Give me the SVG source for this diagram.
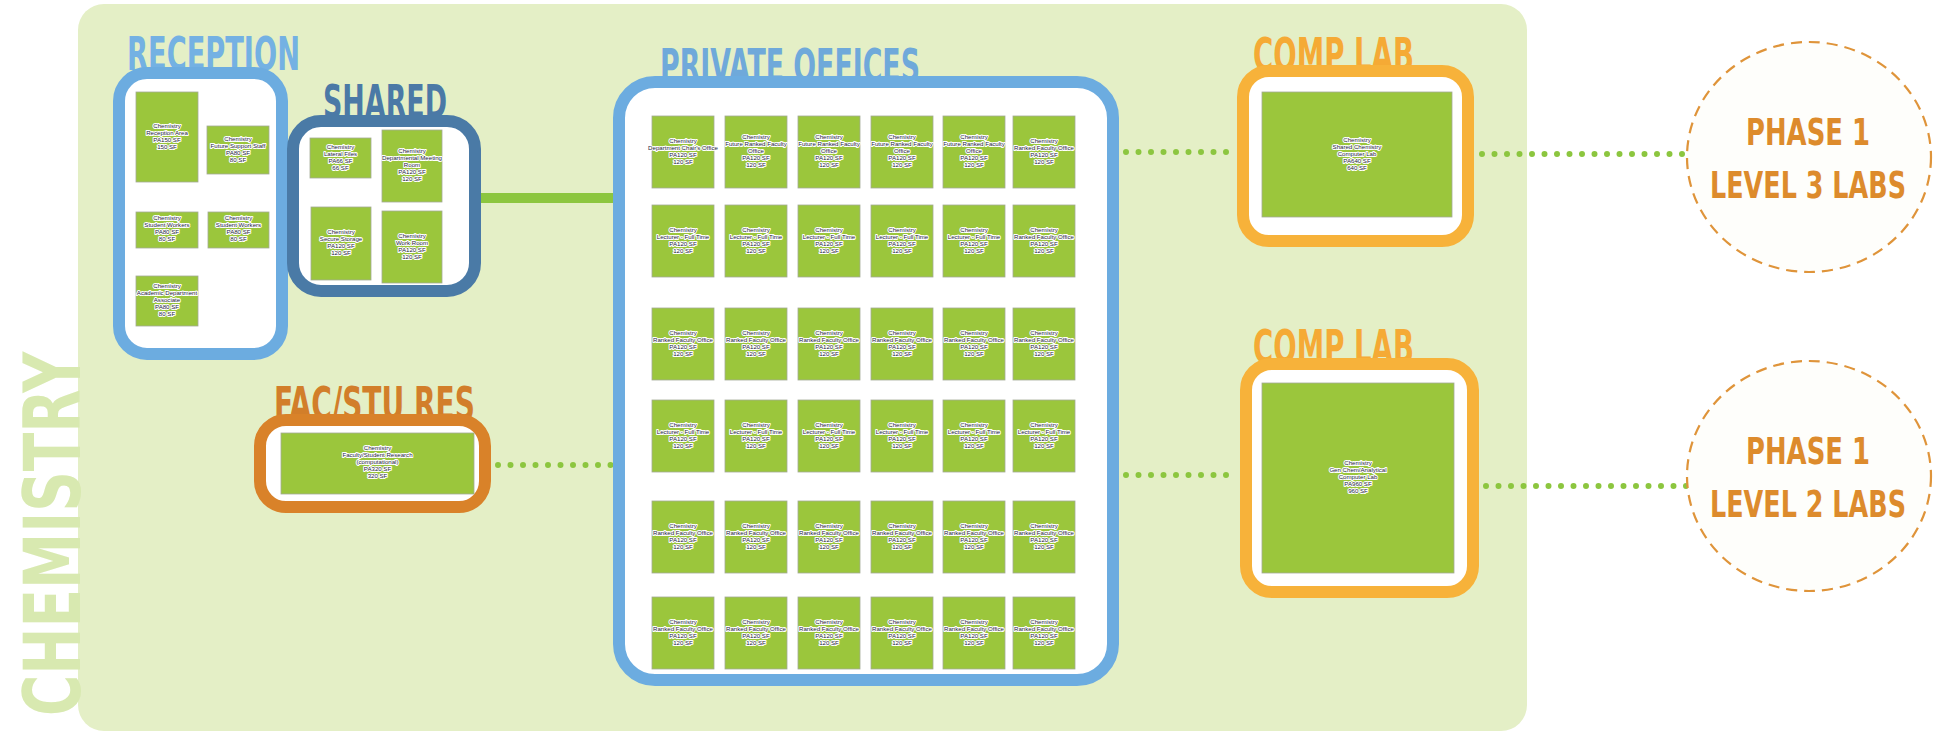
<svg xmlns="http://www.w3.org/2000/svg" width="1936" height="735" viewBox="0 0 1936 735">
<style>
.title{font-family:"DejaVu Sans Condensed","DejaVu Sans",sans-serif;font-weight:bold;font-size:47px;}
.room{fill:#9bc63c;stroke:#a3aa96;stroke-width:0.8;}
.t{font-family:"Liberation Sans",Arial,sans-serif;font-size:6.1px;fill:#1c1c3c;text-anchor:middle;paint-order:stroke;stroke:#ffffff;stroke-width:2px;stroke-linejoin:round;}
.box{fill:#ffffff;stroke-width:12;}
.blue{stroke:#6cace0;}
.steel{stroke:#4a7aa6;}
.orange{stroke:#d98229;}
.gold{stroke:#f7b23a;}
.dots{fill:none;stroke:#8cc63f;stroke-width:6;stroke-linecap:round;stroke-dasharray:0 12.5;}
.solid{fill:none;stroke:#8cc63f;stroke-width:10;}
.phase{fill:#fefefb;stroke:#df943a;stroke-width:2.2;stroke-dasharray:11 7;}
.ptxt{font-family:"DejaVu Sans Condensed","DejaVu Sans",sans-serif;font-weight:bold;font-size:38px;fill:#dd8b2c;}
</style>
<rect id="background" x="78" y="4" width="1449" height="727" rx="26" fill="#e4efc6"/>
<text id="chemistry-label" transform="translate(80,716) rotate(-90)" class="title" style="font-size:79px;fill:#d8e9b0" textLength="364" lengthAdjust="spacingAndGlyphs">CHEMISTRY</text>

<g id="connectors">
<line class="solid" x1="478" y1="198" x2="616" y2="198"/>
<line class="dots" x1="498" y1="465" x2="611" y2="465"/>
<line class="dots" x1="1126" y1="152" x2="1233" y2="152"/>
<line class="dots" x1="1126" y1="475" x2="1236" y2="475"/>
<line class="dots" x1="1482" y1="154" x2="1687" y2="154"/>
<line class="dots" x1="1486" y1="486" x2="1687" y2="486"/>
</g>

<g id="reception">
<text class="title" x="127" y="70" fill="#74b1e3" textLength="173" lengthAdjust="spacingAndGlyphs">RECEPTION</text>
<rect class="box blue" x="119" y="73" width="163" height="281" rx="28"/>
<g id="reception-area"><rect class="room" x="136" y="92" width="62" height="90"/><text class="t" y="127.5"><tspan x="167">Chemistry</tspan><tspan x="167" dy="7">Reception Area</tspan><tspan x="167" dy="7">PA150 SF</tspan><tspan x="167" dy="7">150 SF</tspan></text></g>
<g id="future-support-staff"><rect class="room" x="207" y="126" width="62" height="48"/><text class="t" y="140.5"><tspan x="238">Chemistry</tspan><tspan x="238" dy="7">Future Support Staff</tspan><tspan x="238" dy="7">PA80 SF</tspan><tspan x="238" dy="7">80 SF</tspan></text></g>
<g id="student-workers-1"><rect class="room" x="136" y="212" width="62" height="36"/><text class="t" y="220"><tspan x="167">Chemistry</tspan><tspan x="167" dy="7">Student Workers</tspan><tspan x="167" dy="7">PA80 SF</tspan><tspan x="167" dy="7">80 SF</tspan></text></g>
<g id="student-workers-2"><rect class="room" x="208" y="212" width="61" height="36"/><text class="t" y="220"><tspan x="238.5">Chemistry</tspan><tspan x="238.5" dy="7">Student Workers</tspan><tspan x="238.5" dy="7">PA80 SF</tspan><tspan x="238.5" dy="7">80 SF</tspan></text></g>
<g id="academic-dept-associate"><rect class="room" x="136" y="276" width="62" height="50"/><text class="t" y="288"><tspan x="167">Chemistry</tspan><tspan x="167" dy="7">Academic Department</tspan><tspan x="167" dy="7">Associate</tspan><tspan x="167" dy="7">PA80 SF</tspan><tspan x="167" dy="7">80 SF</tspan></text></g>
</g>

<g id="shared">
<text class="title" x="323" y="118" fill="#4b79a6" textLength="124" lengthAdjust="spacingAndGlyphs">SHARED</text>
<rect class="box steel" x="293" y="121" width="182" height="170" rx="28"/>
<g id="lateral-files"><rect class="room" x="310" y="138" width="61" height="40"/><text class="t" y="148.5"><tspan x="340.5">Chemistry</tspan><tspan x="340.5" dy="7">Lateral Files</tspan><tspan x="340.5" dy="7">PA66 SF</tspan><tspan x="340.5" dy="7">66 SF</tspan></text></g>
<g id="meeting-room"><rect class="room" x="382" y="130" width="60" height="72"/><text class="t" y="153"><tspan x="412">Chemistry</tspan><tspan x="412" dy="7">Departmental Meeting</tspan><tspan x="412" dy="7">Room</tspan><tspan x="412" dy="7">PA120 SF</tspan><tspan x="412" dy="7">120 SF</tspan></text></g>
<g id="secure-storage"><rect class="room" x="311" y="207" width="60" height="73"/><text class="t" y="234"><tspan x="341">Chemistry</tspan><tspan x="341" dy="7">Secure Storage</tspan><tspan x="341" dy="7">PA120 SF</tspan><tspan x="341" dy="7">120 SF</tspan></text></g>
<g id="work-room"><rect class="room" x="382" y="211" width="60" height="72"/><text class="t" y="237.5"><tspan x="412">Chemistry</tspan><tspan x="412" dy="7">Work Room</tspan><tspan x="412" dy="7">PA120 SF</tspan><tspan x="412" dy="7">120 SF</tspan></text></g>
</g>

<g id="fac-stu-res">
<text class="title" x="274" y="420" fill="#d27e2a" textLength="201" lengthAdjust="spacingAndGlyphs">FAC/STU RES</text>
<rect class="box orange" x="260" y="420" width="225" height="87" rx="26"/>
<rect class="room" x="281" y="433" width="193" height="61"/>
<text class="t" y="450"><tspan x="377.5">Chemistry</tspan><tspan x="377.5" dy="7">Faculty/Student Research</tspan><tspan x="377.5" dy="7">(computational)</tspan><tspan x="377.5" dy="7">PA320 SF</tspan><tspan x="377.5" dy="7">320 SF</tspan></text>
</g>

<g id="private-offices">
<text class="title" x="660" y="82" fill="#6fa9da" textLength="260" lengthAdjust="spacingAndGlyphs">PRIVATE OFFICES</text>
<rect class="box blue" x="619" y="82" width="494" height="598" rx="36"/>
<!-- row 1 -->
<g id="po-r1c1"><rect class="room" x="652" y="116" width="62" height="72"/><text class="t" y="142.5"><tspan x="683">Chemistry</tspan><tspan x="683" dy="7">Department Chair's Office</tspan><tspan x="683" dy="7">PA120 SF</tspan><tspan x="683" dy="7">120 SF</tspan></text></g>
<g id="po-r1c2"><rect class="room" x="725" y="116" width="62" height="72"/><text class="t" y="139"><tspan x="756">Chemistry</tspan><tspan x="756" dy="7">Future Ranked Faculty</tspan><tspan x="756" dy="7">Office</tspan><tspan x="756" dy="7">PA120 SF</tspan><tspan x="756" dy="7">120 SF</tspan></text></g>
<g id="po-r1c3"><rect class="room" x="798" y="116" width="62" height="72"/><text class="t" y="139"><tspan x="829">Chemistry</tspan><tspan x="829" dy="7">Future Ranked Faculty</tspan><tspan x="829" dy="7">Office</tspan><tspan x="829" dy="7">PA120 SF</tspan><tspan x="829" dy="7">120 SF</tspan></text></g>
<g id="po-r1c4"><rect class="room" x="871" y="116" width="62" height="72"/><text class="t" y="139"><tspan x="902">Chemistry</tspan><tspan x="902" dy="7">Future Ranked Faculty</tspan><tspan x="902" dy="7">Office</tspan><tspan x="902" dy="7">PA120 SF</tspan><tspan x="902" dy="7">120 SF</tspan></text></g>
<g id="po-r1c5"><rect class="room" x="943" y="116" width="62" height="72"/><text class="t" y="139"><tspan x="974">Chemistry</tspan><tspan x="974" dy="7">Future Ranked Faculty</tspan><tspan x="974" dy="7">Office</tspan><tspan x="974" dy="7">PA120 SF</tspan><tspan x="974" dy="7">120 SF</tspan></text></g>
<g id="po-r1c6"><rect class="room" x="1013" y="116" width="62" height="72"/><text class="t" y="142.5"><tspan x="1044">Chemistry</tspan><tspan x="1044" dy="7">Ranked Faculty Office</tspan><tspan x="1044" dy="7">PA120 SF</tspan><tspan x="1044" dy="7">120 SF</tspan></text></g>
<!-- row 2 -->
<g id="po-r2c1"><rect class="room" x="652" y="205" width="62" height="72"/><text class="t" y="231.5"><tspan x="683">Chemistry</tspan><tspan x="683" dy="7">Lecturer - Full Time</tspan><tspan x="683" dy="7">PA120 SF</tspan><tspan x="683" dy="7">120 SF</tspan></text></g>
<g id="po-r2c2"><rect class="room" x="725" y="205" width="62" height="72"/><text class="t" y="231.5"><tspan x="756">Chemistry</tspan><tspan x="756" dy="7">Lecturer - Full Time</tspan><tspan x="756" dy="7">PA120 SF</tspan><tspan x="756" dy="7">120 SF</tspan></text></g>
<g id="po-r2c3"><rect class="room" x="798" y="205" width="62" height="72"/><text class="t" y="231.5"><tspan x="829">Chemistry</tspan><tspan x="829" dy="7">Lecturer - Full Time</tspan><tspan x="829" dy="7">PA120 SF</tspan><tspan x="829" dy="7">120 SF</tspan></text></g>
<g id="po-r2c4"><rect class="room" x="871" y="205" width="62" height="72"/><text class="t" y="231.5"><tspan x="902">Chemistry</tspan><tspan x="902" dy="7">Lecturer - Full Time</tspan><tspan x="902" dy="7">PA120 SF</tspan><tspan x="902" dy="7">120 SF</tspan></text></g>
<g id="po-r2c5"><rect class="room" x="943" y="205" width="62" height="72"/><text class="t" y="231.5"><tspan x="974">Chemistry</tspan><tspan x="974" dy="7">Lecturer - Full Time</tspan><tspan x="974" dy="7">PA120 SF</tspan><tspan x="974" dy="7">120 SF</tspan></text></g>
<g id="po-r2c6"><rect class="room" x="1013" y="205" width="62" height="72"/><text class="t" y="231.5"><tspan x="1044">Chemistry</tspan><tspan x="1044" dy="7">Ranked Faculty Office</tspan><tspan x="1044" dy="7">PA120 SF</tspan><tspan x="1044" dy="7">120 SF</tspan></text></g>
<!-- row 3 -->
<g id="po-r3c1"><rect class="room" x="652" y="308" width="62" height="72"/><text class="t" y="334.5"><tspan x="683">Chemistry</tspan><tspan x="683" dy="7">Ranked Faculty Office</tspan><tspan x="683" dy="7">PA120 SF</tspan><tspan x="683" dy="7">120 SF</tspan></text></g>
<g id="po-r3c2"><rect class="room" x="725" y="308" width="62" height="72"/><text class="t" y="334.5"><tspan x="756">Chemistry</tspan><tspan x="756" dy="7">Ranked Faculty Office</tspan><tspan x="756" dy="7">PA120 SF</tspan><tspan x="756" dy="7">120 SF</tspan></text></g>
<g id="po-r3c3"><rect class="room" x="798" y="308" width="62" height="72"/><text class="t" y="334.5"><tspan x="829">Chemistry</tspan><tspan x="829" dy="7">Ranked Faculty Office</tspan><tspan x="829" dy="7">PA120 SF</tspan><tspan x="829" dy="7">120 SF</tspan></text></g>
<g id="po-r3c4"><rect class="room" x="871" y="308" width="62" height="72"/><text class="t" y="334.5"><tspan x="902">Chemistry</tspan><tspan x="902" dy="7">Ranked Faculty Office</tspan><tspan x="902" dy="7">PA120 SF</tspan><tspan x="902" dy="7">120 SF</tspan></text></g>
<g id="po-r3c5"><rect class="room" x="943" y="308" width="62" height="72"/><text class="t" y="334.5"><tspan x="974">Chemistry</tspan><tspan x="974" dy="7">Ranked Faculty Office</tspan><tspan x="974" dy="7">PA120 SF</tspan><tspan x="974" dy="7">120 SF</tspan></text></g>
<g id="po-r3c6"><rect class="room" x="1013" y="308" width="62" height="72"/><text class="t" y="334.5"><tspan x="1044">Chemistry</tspan><tspan x="1044" dy="7">Ranked Faculty Office</tspan><tspan x="1044" dy="7">PA120 SF</tspan><tspan x="1044" dy="7">120 SF</tspan></text></g>
<!-- row 4 -->
<g id="po-r4c1"><rect class="room" x="652" y="400" width="62" height="72"/><text class="t" y="426.5"><tspan x="683">Chemistry</tspan><tspan x="683" dy="7">Lecturer - Full Time</tspan><tspan x="683" dy="7">PA120 SF</tspan><tspan x="683" dy="7">120 SF</tspan></text></g>
<g id="po-r4c2"><rect class="room" x="725" y="400" width="62" height="72"/><text class="t" y="426.5"><tspan x="756">Chemistry</tspan><tspan x="756" dy="7">Lecturer - Full Time</tspan><tspan x="756" dy="7">PA120 SF</tspan><tspan x="756" dy="7">120 SF</tspan></text></g>
<g id="po-r4c3"><rect class="room" x="798" y="400" width="62" height="72"/><text class="t" y="426.5"><tspan x="829">Chemistry</tspan><tspan x="829" dy="7">Lecturer - Full Time</tspan><tspan x="829" dy="7">PA120 SF</tspan><tspan x="829" dy="7">120 SF</tspan></text></g>
<g id="po-r4c4"><rect class="room" x="871" y="400" width="62" height="72"/><text class="t" y="426.5"><tspan x="902">Chemistry</tspan><tspan x="902" dy="7">Lecturer - Full Time</tspan><tspan x="902" dy="7">PA120 SF</tspan><tspan x="902" dy="7">120 SF</tspan></text></g>
<g id="po-r4c5"><rect class="room" x="943" y="400" width="62" height="72"/><text class="t" y="426.5"><tspan x="974">Chemistry</tspan><tspan x="974" dy="7">Lecturer - Full Time</tspan><tspan x="974" dy="7">PA120 SF</tspan><tspan x="974" dy="7">120 SF</tspan></text></g>
<g id="po-r4c6"><rect class="room" x="1013" y="400" width="62" height="72"/><text class="t" y="426.5"><tspan x="1044">Chemistry</tspan><tspan x="1044" dy="7">Lecturer - Full Time</tspan><tspan x="1044" dy="7">PA120 SF</tspan><tspan x="1044" dy="7">120 SF</tspan></text></g>
<!-- row 5 -->
<g id="po-r5c1"><rect class="room" x="652" y="501" width="62" height="72"/><text class="t" y="527.5"><tspan x="683">Chemistry</tspan><tspan x="683" dy="7">Ranked Faculty Office</tspan><tspan x="683" dy="7">PA120 SF</tspan><tspan x="683" dy="7">120 SF</tspan></text></g>
<g id="po-r5c2"><rect class="room" x="725" y="501" width="62" height="72"/><text class="t" y="527.5"><tspan x="756">Chemistry</tspan><tspan x="756" dy="7">Ranked Faculty Office</tspan><tspan x="756" dy="7">PA120 SF</tspan><tspan x="756" dy="7">120 SF</tspan></text></g>
<g id="po-r5c3"><rect class="room" x="798" y="501" width="62" height="72"/><text class="t" y="527.5"><tspan x="829">Chemistry</tspan><tspan x="829" dy="7">Ranked Faculty Office</tspan><tspan x="829" dy="7">PA120 SF</tspan><tspan x="829" dy="7">120 SF</tspan></text></g>
<g id="po-r5c4"><rect class="room" x="871" y="501" width="62" height="72"/><text class="t" y="527.5"><tspan x="902">Chemistry</tspan><tspan x="902" dy="7">Ranked Faculty Office</tspan><tspan x="902" dy="7">PA120 SF</tspan><tspan x="902" dy="7">120 SF</tspan></text></g>
<g id="po-r5c5"><rect class="room" x="943" y="501" width="62" height="72"/><text class="t" y="527.5"><tspan x="974">Chemistry</tspan><tspan x="974" dy="7">Ranked Faculty Office</tspan><tspan x="974" dy="7">PA120 SF</tspan><tspan x="974" dy="7">120 SF</tspan></text></g>
<g id="po-r5c6"><rect class="room" x="1013" y="501" width="62" height="72"/><text class="t" y="527.5"><tspan x="1044">Chemistry</tspan><tspan x="1044" dy="7">Ranked Faculty Office</tspan><tspan x="1044" dy="7">PA120 SF</tspan><tspan x="1044" dy="7">120 SF</tspan></text></g>
<!-- row 6 -->
<g id="po-r6c1"><rect class="room" x="652" y="597" width="62" height="72"/><text class="t" y="623.5"><tspan x="683">Chemistry</tspan><tspan x="683" dy="7">Ranked Faculty Office</tspan><tspan x="683" dy="7">PA120 SF</tspan><tspan x="683" dy="7">120 SF</tspan></text></g>
<g id="po-r6c2"><rect class="room" x="725" y="597" width="62" height="72"/><text class="t" y="623.5"><tspan x="756">Chemistry</tspan><tspan x="756" dy="7">Ranked Faculty Office</tspan><tspan x="756" dy="7">PA120 SF</tspan><tspan x="756" dy="7">120 SF</tspan></text></g>
<g id="po-r6c3"><rect class="room" x="798" y="597" width="62" height="72"/><text class="t" y="623.5"><tspan x="829">Chemistry</tspan><tspan x="829" dy="7">Ranked Faculty Office</tspan><tspan x="829" dy="7">PA120 SF</tspan><tspan x="829" dy="7">120 SF</tspan></text></g>
<g id="po-r6c4"><rect class="room" x="871" y="597" width="62" height="72"/><text class="t" y="623.5"><tspan x="902">Chemistry</tspan><tspan x="902" dy="7">Ranked Faculty Office</tspan><tspan x="902" dy="7">PA120 SF</tspan><tspan x="902" dy="7">120 SF</tspan></text></g>
<g id="po-r6c5"><rect class="room" x="943" y="597" width="62" height="72"/><text class="t" y="623.5"><tspan x="974">Chemistry</tspan><tspan x="974" dy="7">Ranked Faculty Office</tspan><tspan x="974" dy="7">PA120 SF</tspan><tspan x="974" dy="7">120 SF</tspan></text></g>
<g id="po-r6c6"><rect class="room" x="1013" y="597" width="62" height="72"/><text class="t" y="623.5"><tspan x="1044">Chemistry</tspan><tspan x="1044" dy="7">Ranked Faculty Office</tspan><tspan x="1044" dy="7">PA120 SF</tspan><tspan x="1044" dy="7">120 SF</tspan></text></g>
</g>

<g id="comp-lab-1">
<text class="title" x="1253" y="71" fill="#f5aa35" textLength="161" lengthAdjust="spacingAndGlyphs">COMP LAB</text>
<rect class="box gold" x="1243" y="71" width="225" height="170" rx="26"/>
<rect class="room" x="1262" y="92" width="190" height="125"/>
<text class="t" y="141.5"><tspan x="1357">Chemistry</tspan><tspan x="1357" dy="7">Shared Chemistry</tspan><tspan x="1357" dy="7">Computer Lab</tspan><tspan x="1357" dy="7">PA640 SF</tspan><tspan x="1357" dy="7">640 SF</tspan></text>
</g>

<g id="comp-lab-2">
<text class="title" x="1253" y="363" fill="#f5aa35" textLength="161" lengthAdjust="spacingAndGlyphs">COMP LAB</text>
<rect class="box gold" x="1246" y="364" width="227" height="228" rx="26"/>
<rect class="room" x="1262" y="383" width="192" height="190"/>
<text class="t" y="465"><tspan x="1358">Chemistry</tspan><tspan x="1358" dy="7">Gen Chem/Analytical</tspan><tspan x="1358" dy="7">Computer Lab</tspan><tspan x="1358" dy="7">PA960 SF</tspan><tspan x="1358" dy="7">960 SF</tspan></text>
</g>

<g id="phase1-level3">
<ellipse class="phase" cx="1809" cy="157" rx="122" ry="115"/>
<text class="ptxt" x="1808" y="145" text-anchor="middle" textLength="124" lengthAdjust="spacingAndGlyphs">PHASE 1</text>
<text class="ptxt" x="1808" y="198" text-anchor="middle" textLength="196" lengthAdjust="spacingAndGlyphs">LEVEL 3 LABS</text>
</g>

<g id="phase1-level2">
<ellipse class="phase" cx="1809" cy="476" rx="122" ry="115"/>
<text class="ptxt" x="1808" y="464" text-anchor="middle" textLength="124" lengthAdjust="spacingAndGlyphs">PHASE 1</text>
<text class="ptxt" x="1808" y="517" text-anchor="middle" textLength="196" lengthAdjust="spacingAndGlyphs">LEVEL 2 LABS</text>
</g>
</svg>
